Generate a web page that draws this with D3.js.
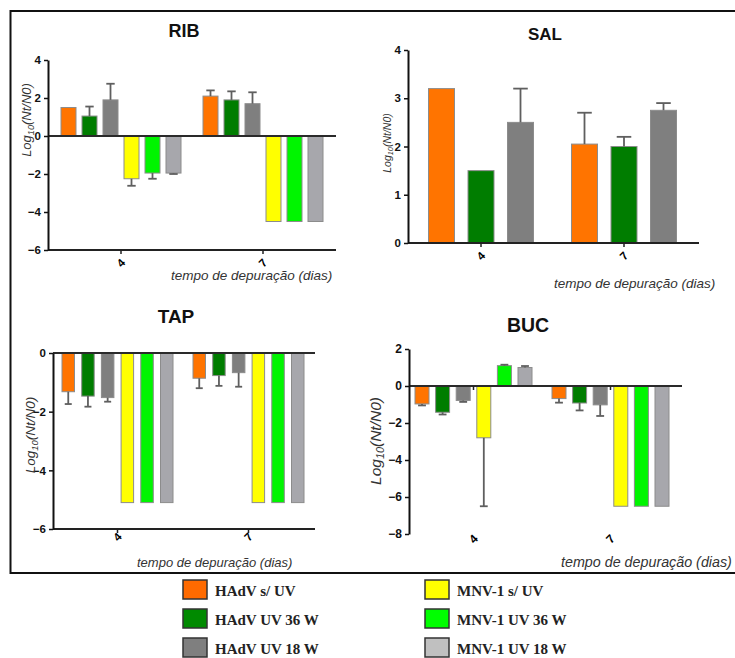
<!DOCTYPE html>
<html>
<head>
<meta charset="utf-8">
<script src="https://cdn.jsdelivr.net/npm/d3@7"></script>
<style>
  body { margin: 0; background: #fff; }
  text { font-family: "Liberation Sans", Arial, sans-serif; }
</style>
</head>
<body>
<div id="vis"></div>
<script>
// categories
const days = ["4", "7"];
const seriesNames = ["HAdV s/ UV", "HAdV UV 36 W", "HAdV UV 18 W",
                     "MNV-1 s/ UV", "MNV-1 UV 36 W", "MNV-1 UV 18 W"];
const barColors = ["#ff7400", "#007d00", "#7f7f7f", "#ffff00", "#00f500", "#a7a7ac"];
const legendColors = ["#ff6a00", "#008a00", "#7f7f7f", "#ffff00", "#00ff00", "#c0c0c0"];

// series values, one row per day (4, 7), one column per series
const ribMeans = [[1.5, 1.05, 1.9, -2.25, -1.95, -1.95], [2.1, 1.9, 1.7, -4.5, -4.5, -4.5]];
const ribErrs  = [[0, 0.5, 0.85, 0.37, 0.3, 0.05], [0.3, 0.45, 0.6, 0, 0, 0]];
const salMeans = [[3.2, 1.5, 2.5], [2.05, 2.0, 2.75]];
const salErrs  = [[0, 0, 0.7], [0.65, 0.2, 0.15]];
const tapMeans = [[-1.32, -1.47, -1.52, -5.1, -5.1, -5.1], [-0.86, -0.77, -0.67, -5.1, -5.1, -5.1]];
const tapErrs  = [[0.42, 0.36, 0.14, 0, 0, 0], [0.34, 0.35, 0.48, 0, 0, 0]];
const bucMeans = [[-0.97, -1.42, -0.78, -2.8, 1.1, 1.0], [-0.68, -0.92, -1.02, -6.5, -6.5, -6.5]];
const bucErrs  = [[0.08, 0.12, 0.08, 3.7, 0.05, 0.08], [0.22, 0.4, 0.6, 0, 0, 0]];

// tick labels
const ribTicks = [-6, -4, -2, 0, 2, 4];
const salTicks = [0, 1, 2, 3, 4];
const tapTicks = [-6, -4, -2, 0];
const bucTicks = [-8, -6, -4, -2, 0, 2];

const svg = d3.select("#vis")
    .append("svg")
    .attr("width", 735)
    .attr("height", 658);

// frame round the four charts
svg.append("rect")
    .attr("x", 10.5).attr("y", 11)
    .attr("width", 740).attr("height", 562)
    .attr("fill", "none")
    .attr("stroke", "#111")
    .attr("stroke-width", 2);

const panels = [
  { title: "RIB", means: ribMeans, errs: ribErrs, ticks: ribTicks, domain: [-6, 4],
    left: 48, right: 336, top: 60, bottom: 250, c1: 121, c2: 263, step: 21, bw: 15,
    titleX: 184, titleY: 37, titleSize: 18, yLabX: 31, yLabY: 120, yLabSize: 13,
    xLabX: 171, xLabY: 280, xLabSize: 13.5, tickY: 263, tickSize: 11.5, bottomLine: true },
  { title: "SAL", means: salMeans, errs: salErrs, ticks: salTicks, domain: [0, 4],
    left: 408, right: 699, top: 50, bottom: 243, c1: 481, c2: 624, step: 39.5, bw: 26,
    titleX: 545, titleY: 40, titleSize: 17, yLabX: 391, yLabY: 143, yLabSize: 10.5,
    xLabX: 554, xLabY: 288, xLabSize: 13.5, tickY: 256, tickSize: 11.5, bottomLine: true },
  { title: "TAP", means: tapMeans, errs: tapErrs, ticks: tapTicks, domain: [-6, 0],
    left: 53, right: 315, top: 353, bottom: 529, c1: 117.5, c2: 248.5, step: 19.7, bw: 12.5,
    titleX: 176, titleY: 323, titleSize: 19, yLabX: 35, yLabY: 435, yLabSize: 13.5,
    xLabX: 137, xLabY: 567, xLabSize: 13, tickY: 537, tickSize: 11.5, bottomLine: true },
  { title: "BUC", means: bucMeans, errs: bucErrs, ticks: bucTicks, domain: [-8, 2],
    left: 409, right: 682, top: 349, bottom: 534, c1: 473.5, c2: 610.5, step: 20.6, bw: 14,
    titleX: 528, titleY: 332, titleSize: 19.5, yLabX: 381, yLabY: 441, yLabSize: 15.5,
    xLabX: 561, xLabY: 567, xLabSize: 14.3, tickY: 539, tickSize: 12, bottomLine: false }
];

function drawPanel(p) {
  const g = svg.append("g");
  const n = p.means[0].length;
  const groupStep = p.c2 - p.c1;

  const Y_SCALE = d3.scaleLinear().domain(p.domain).range([p.bottom, p.top]);
  const X_SCALE = d3.scaleBand()
      .domain(days)
      .range([p.c1 - groupStep / 2, p.c2 + groupStep / 2])
      .padding(0);
  const padIn = 1 - p.bw / p.step;
  const X_INNER = d3.scaleBand()
      .domain(d3.range(n))
      .range([0, groupStep])
      .paddingInner(padIn)
      .paddingOuter((groupStep / p.step - n + padIn) / 2);

  const rows = [];
  days.forEach((day, di) => {
    p.means[di].forEach((v, si) => rows.push({ day: day, s: si, v: v, e: p.errs[di][si] }));
  });

  // bars
  g.selectAll("rect.bar")
    .data(rows)
    .enter()
    .append("rect")
    .attr("class", "bar")
    .attr("x", d => X_SCALE(d.day) + X_INNER(d.s))
    .attr("y", d => Y_SCALE(Math.max(0, d.v)))
    .attr("width", X_INNER.bandwidth())
    .attr("height", d => Math.abs(Y_SCALE(d.v) - Y_SCALE(0)))
    .attr("fill", d => barColors[d.s])
    .attr("stroke", "#8c8c8c")
    .attr("stroke-width", 1);

  // error bars, drawn away from zero only
  const errRows = rows.filter(d => d.e > 0);
  const cap = X_INNER.bandwidth() * 0.28;
  const cx = d => X_SCALE(d.day) + X_INNER(d.s) + X_INNER.bandwidth() / 2;
  const tip = d => Y_SCALE(d.v + (d.v >= 0 ? d.e : -d.e));
  g.selectAll("line.err")
    .data(errRows)
    .enter()
    .append("line")
    .attr("x1", cx).attr("x2", cx)
    .attr("y1", d => Y_SCALE(d.v)).attr("y2", tip)
    .attr("stroke", "#5f5f5f").attr("stroke-width", 1.8);
  g.selectAll("line.cap")
    .data(errRows)
    .enter()
    .append("line")
    .attr("x1", d => cx(d) - cap).attr("x2", d => cx(d) + cap)
    .attr("y1", tip).attr("y2", tip)
    .attr("stroke", "#5f5f5f").attr("stroke-width", 1.8);

  // zero line
  g.append("line")
    .attr("x1", p.left).attr("x2", p.right)
    .attr("y1", Y_SCALE(0)).attr("y2", Y_SCALE(0))
    .attr("stroke", "#2a2a2a").attr("stroke-width", 2.2);

  // bottom axis line
  if (p.bottomLine) {
    g.append("line")
      .attr("x1", p.left).attr("x2", p.right)
      .attr("y1", p.bottom).attr("y2", p.bottom)
      .attr("stroke", "#222").attr("stroke-width", 2);
  }

  // x ticks and rotated labels
  const tickBase = p.bottomLine ? p.bottom : Y_SCALE(0);
  g.selectAll("line.xtick")
    .data(days)
    .enter()
    .append("line")
    .attr("x1", d => X_SCALE(d) + groupStep / 2).attr("x2", d => X_SCALE(d) + groupStep / 2)
    .attr("y1", tickBase).attr("y2", tickBase + 4)
    .attr("stroke", "#222").attr("stroke-width", 1.5);
  g.selectAll("text.xlab")
    .data(days)
    .enter()
    .append("text")
    .attr("transform", d => "translate(" + (X_SCALE(d) + groupStep / 2) + "," + p.tickY + ") rotate(-45)")
    .attr("text-anchor", "middle")
    .attr("dominant-baseline", "central")
    .attr("font-size", p.tickSize + "px")
    .attr("font-weight", "bold")
    .text(d => d);

  // y axis
  const yAxis = g.append("g")
    .attr("transform", "translate(" + p.left + ",0)")
    .call(d3.axisLeft(Y_SCALE).tickValues(p.ticks).tickSize(4).tickSizeOuter(0).tickFormat(d3.format("d")));
  yAxis.select(".domain").attr("stroke", "#111").attr("stroke-width", 2);
  yAxis.selectAll(".tick line").attr("stroke", "#111").attr("stroke-width", 1.5);
  yAxis.selectAll(".tick text")
    .attr("font-size", p.tickSize + "px")
    .attr("font-weight", "bold")
    .attr("fill", "#111")
    .style("font-family", "Liberation Sans, Arial, sans-serif");

  // title
  g.append("text")
    .attr("x", p.titleX).attr("y", p.titleY)
    .attr("text-anchor", "middle")
    .attr("font-size", p.titleSize + "px")
    .attr("font-weight", "bold")
    .attr("fill", "#111")
    .text(p.title);

  // y label with subscript
  const yl = g.append("text")
    .attr("transform", "translate(" + p.yLabX + "," + p.yLabY + ") rotate(-90)")
    .attr("text-anchor", "middle")
    .attr("font-size", p.yLabSize + "px")
    .attr("font-style", "italic")
    .attr("fill", "#333");
  yl.append("tspan").text("Log");
  yl.append("tspan").attr("font-size", "0.7em").attr("dy", "0.3em").text("10");
  yl.append("tspan").attr("dy", "-0.21em").text("(Nt/N0)");

  // x label
  g.append("text")
    .attr("x", p.xLabX).attr("y", p.xLabY)
    .attr("font-size", p.xLabSize + "px")
    .attr("font-style", "italic")
    .attr("fill", "#333")
    .text("tempo de depuração (dias)");
}

panels.forEach(drawPanel);

// legend
const legend = svg.append("g");
const items = legend.selectAll("g")
  .data(seriesNames)
  .enter()
  .append("g")
  .attr("transform", (d, i) => "translate(" + (i < 3 ? 183 : 425) + "," + (580 + (i % 3) * 29) + ")");
items.append("rect")
  .attr("width", 24).attr("height", 19)
  .attr("fill", (d, i) => legendColors[i])
  .attr("stroke", "#333").attr("stroke-width", 1.5);
items.append("text")
  .attr("x", 32).attr("y", 16)
  .style("font-family", "'Liberation Serif', 'Times New Roman', serif")
  .attr("font-weight", "bold")
  .attr("font-size", "15px")
  .attr("fill", "#222")
  .text(d => d);
</script>
</body>
</html>
